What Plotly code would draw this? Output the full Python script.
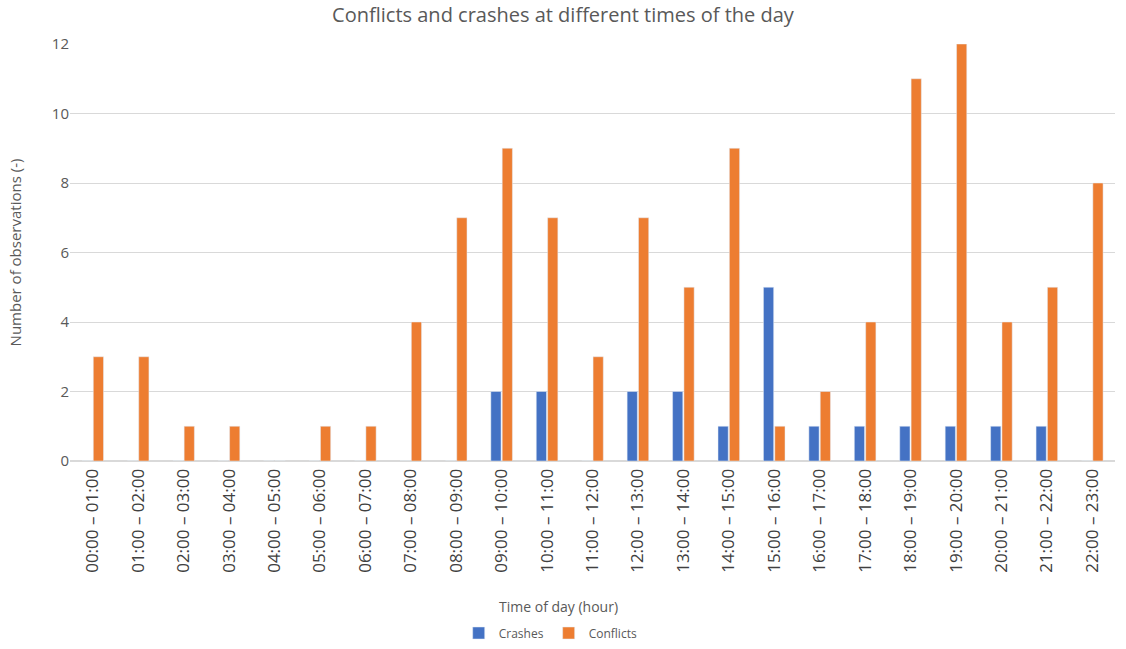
import plotly.graph_objects as go

categories = [f"{h:02d}:00 – {h+1:02d}:00" for h in range(23)]
crashes = [0, 0, 0, 0, 0, 0, 0, 0, 0, 2, 2, 0, 2, 2, 1, 5, 1, 1, 1, 1, 1, 1, 0]
conflicts = [3, 3, 1, 1, 0, 1, 1, 4, 7, 9, 7, 3, 7, 5, 9, 1, 2, 4, 11, 12, 4, 5, 8]
y_ticks = [0, 2, 4, 6, 8, 10, 12]

grey = "#595959"
fig = go.Figure()
fig.add_trace(go.Bar(x=categories, y=crashes, name="Crashes", marker_color="#4472C4"))
fig.add_trace(go.Bar(x=categories, y=conflicts, name="Conflicts", marker_color="#ED7D31"))

fig.update_layout(
    width=1126, height=649,
    margin=dict(l=70, r=11, t=44, b=188),
    paper_bgcolor="white", plot_bgcolor="white",
    font=dict(family="Open Sans", color=grey, size=13),
    title=dict(text="Conflicts and crashes at different times of the day",
               x=0.5, xanchor="center", yref="container", y=1 - 15 / 649, yanchor="middle",
               font=dict(size=20, color=grey)),
    barmode="group", bargap=0.5, bargroupgap=0.1,
    legend=dict(orientation="h", x=0.46, xanchor="center", yref="container",
                y=1 - 633 / 649, yanchor="middle", itemwidth=30,
                font=dict(size=12, color=grey)),
    xaxis=dict(tickangle=-90, tickfont=dict(size=17, color="#404040"),
               automargin=False,
               showline=True, linecolor="#d9d9d9", ticks=""),
    yaxis=dict(range=[0, 12], tickvals=y_ticks, showgrid=True, gridcolor="#d9d9d9",
               automargin=False,
               zeroline=True, zerolinecolor="#d9d9d9",
               tickfont=dict(size=15, color=grey),
               title=dict(text="Number of observations (-)", font=dict(size=15, color=grey), standoff=26)),
    annotations=[dict(text="Time of day (hour)", xref="paper", yref="paper",
                      x=(558 - 70) / 1045, y=-(606 - 461) / 417, xanchor="center", yanchor="middle",
                      showarrow=False, font=dict(size=14, color=grey))],
)
fig.write_html("out.html")
